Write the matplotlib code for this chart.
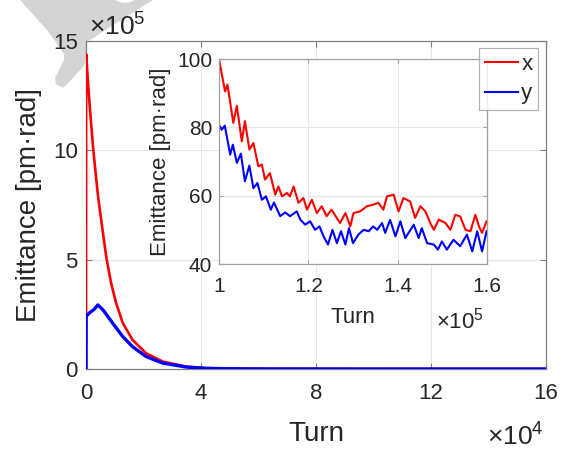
import matplotlib
matplotlib.use("Agg")
import matplotlib.pyplot as plt
from matplotlib.patches import Polygon, Circle
import numpy as np

plt.rcParams['font.family'] = ['Liberation Sans', 'DejaVu Sans']
plt.rcParams['mathtext.fontset'] = 'custom'
plt.rcParams['mathtext.rm'] = 'Liberation Sans'
plt.rcParams['mathtext.default'] = 'regular'

# ---------------- data ----------------
# main panel: turn (x10^4), emittance (x10^5 pm.rad)
main_turn_x = [0, 0.005, 0.05, 0.13, 0.255, 0.41, 0.52, 0.64, 0.72, 0.87, 1.04, 1.28, 1.62, 2.09, 2.67, 3.48, 4.17, 5.0, 6.0, 8.0, 10.0, 16.0]
main_emit_x = [0, 14.4, 13.5, 12.0, 10.0, 8.0, 6.9, 5.74, 5.0, 3.95, 3.05, 2.1, 1.33, 0.72, 0.34, 0.11, 0.04, 0.015, 0.006, 0.002, 0.001, 0.0005]
main_turn_y = [0, 0.005, 0.05, 0.17, 0.28, 0.41, 0.52, 0.64, 0.93, 1.28, 1.62, 2.09, 2.67, 3.48, 4.17, 5.0, 6.0, 10.0, 16.0]
main_emit_y = [0, 2.39, 2.48, 2.62, 2.72, 2.93, 2.80, 2.62, 2.09, 1.48, 1.02, 0.57, 0.27, 0.09, 0.03, 0.012, 0.005, 0.0008, 0.0005]

# inset: turn (x10^5), emittance (pm.rad)
ins_turn_x = [1.000, 1.0135, 1.019, 1.032, 1.040, 1.051, 1.058, 1.068, 1.077, 1.088, 1.096, 1.103,
              1.114, 1.126, 1.133, 1.141, 1.152, 1.159, 1.167, 1.178, 1.189, 1.197, 1.208, 1.219,
              1.230, 1.241, 1.252, 1.271, 1.283, 1.294, 1.301, 1.316, 1.331, 1.346, 1.357, 1.368,
              1.376, 1.391, 1.402, 1.413, 1.428, 1.439, 1.451, 1.462, 1.473, 1.481, 1.492, 1.507,
              1.518, 1.529, 1.540, 1.552, 1.563, 1.574, 1.582, 1.589, 1.599]
ins_emit_x = [100.0, 90.5, 92.5, 81.3, 86.3, 75.9, 81.8, 73.5, 75.4, 68.6, 69.1, 64.7,
              66.6, 60.3, 62.7, 59.8, 60.8, 59.8, 62.7, 57.9, 59.3, 55.9, 58.8, 54.9,
              56.9, 54.0, 55.9, 52.0, 54.9, 51.0, 54.9, 55.4, 56.9, 57.4, 57.9, 55.9,
              59.8, 60.3, 55.4, 59.3, 58.3, 53.5, 56.9, 55.4, 52.0, 50.0, 53.0, 52.0,
              50.0, 54.4, 53.9, 50.0, 49.6, 54.4, 51.0, 49.1, 52.5]
ins_turn_y = [1.000, 1.006, 1.013, 1.025, 1.031, 1.040, 1.049, 1.058, 1.068, 1.077, 1.086, 1.096,
              1.105, 1.116, 1.123, 1.137, 1.148, 1.159, 1.174, 1.182, 1.193, 1.204, 1.215, 1.225,
              1.234, 1.244, 1.254, 1.264, 1.273, 1.283, 1.291, 1.300, 1.312, 1.324, 1.335, 1.345,
              1.354, 1.365, 1.372, 1.383, 1.395, 1.406, 1.417, 1.436, 1.447, 1.454, 1.466, 1.481,
              1.490, 1.499, 1.510, 1.525, 1.540, 1.555, 1.567, 1.578, 1.589, 1.599]
ins_emit_y = [80.8, 79.3, 80.5, 72.0, 74.9, 69.6, 72.3, 64.2, 68.8, 62.2, 63.7, 58.8,
              59.8, 55.9, 58.0, 54.0, 55.1, 54.0, 55.4, 53.0, 51.5, 52.5, 50.0, 51.0,
              48.1, 45.7, 50.0, 46.1, 49.6, 45.7, 50.5, 46.1, 48.6, 50.0, 49.6, 51.0,
              50.0, 52.0, 49.1, 52.9, 48.1, 52.5, 47.6, 51.5, 47.6, 50.5, 46.1, 45.7,
              44.2, 46.6, 44.2, 47.1, 45.2, 48.6, 43.7, 49.6, 43.7, 49.6]

main_xticks = [0, 4, 8, 12, 16]
main_yticks = [0, 5, 10, 15]
ins_xticks = [1, 1.2, 1.4, 1.6]
ins_yticks = [40, 60, 80, 100]
labels = ['x', 'y']

# ---------------- figure ----------------
W, H = 574, 450
fig = plt.figure(figsize=(W / 100, H / 100), dpi=100)
TXT = '#262626'
SPINE = '#808080'
GRID = '#e6e6e6'

def px(x, y):
    return (x / W, 1 - y / H)

# grey artifact in the top-left corner
shape = [(20, 0), (153, 0), (118, 22), (90, 40), (86, 41), (86, 62), (83, 67), (72, 79), (63, 88),
         (56, 84), (55, 78), (59, 70), (64, 60), (64, 54), (58, 45), (47, 30)]
fig.patches.append(Polygon([px(*p) for p in shape], closed=True, transform=fig.transFigure,
                           facecolor='#d4d4d4', edgecolor='none', zorder=-2))
fig.patches.append(Circle(px(125, -9), 15 / W, transform=fig.transFigure,
                          facecolor='white', edgecolor='none', zorder=-1))
fig.patches.append(Polygon([px(86, 41), px(546, 41), px(546, 369), px(86, 369)], closed=True,
                           transform=fig.transFigure, facecolor='white', edgecolor='none', zorder=-0.5))

ax = fig.add_axes([86 / W, 1 - 369 / H, 460 / W, 328 / H])
ax.patch.set_alpha(0)
ax.plot(main_turn_x, main_emit_x, color='red', lw=1.9, zorder=3)
ax.plot(main_turn_y, main_emit_y, color='blue', lw=2.4, zorder=4)
ax.set_xlim(0, 16)
ax.set_ylim(0, 15)
ax.set_xticks(main_xticks)
ax.set_yticks(main_yticks)
ax.set_xticklabels([str(t) for t in main_xticks])
ax.set_yticklabels([str(t) for t in main_yticks])
ax.grid(True, color=GRID, lw=0.8, zorder=0)
ax.tick_params(direction='in', length=4, width=0.8, colors=SPINE, labelcolor=TXT,
               labelsize=16, top=True, right=True)
ax.tick_params(axis='x', pad=10)
ax.tick_params(axis='y', pad=6)
for s in ax.spines.values():
    s.set_color(SPINE)
    s.set_linewidth(0.9)
ax.set_xlabel('Turn', fontsize=20, color=TXT, labelpad=12)
ax.set_ylabel('Emittance [pm·rad]', fontsize=20, color=TXT, labelpad=8)
fig.text(*px(89, 36), '×10$^5$', fontsize=19, color=TXT, ha='left', va='baseline')
fig.text(*px(487, 446), '×10$^4$', fontsize=19, color=TXT, ha='left', va='baseline')

# inset
axi = fig.add_axes([219 / W, 1 - 264 / H, 268 / W, 205 / H])
axi.plot(ins_turn_x, ins_emit_x, color='red', lw=1.5, label=labels[0])
axi.plot(ins_turn_y, ins_emit_y, color='blue', lw=1.5, label=labels[1])
axi.set_xlim(1, 1.6)
axi.set_ylim(40, 100)
axi.set_xticks(ins_xticks)
axi.set_yticks(ins_yticks)
axi.set_xticklabels(['1', '1.2', '1.4', '1.6'])
axi.set_yticklabels([str(t) for t in ins_yticks])
axi.grid(True, color=GRID, lw=0.8)
axi.tick_params(direction='in', length=3, width=0.8, colors='#a0a0a0', labelcolor=TXT,
                labelsize=15, top=True, right=True, pad=5)
axi.tick_params(axis='x', pad=9)
for s in axi.spines.values():
    s.set_color('#a0a0a0')
    s.set_linewidth(0.9)
axi.set_xlabel('Turn', fontsize=16, color=TXT, labelpad=8)
axi.set_ylabel('Emittance [pm·rad]', fontsize=16, color=TXT, labelpad=4)
fig.text(*px(436, 328), '×10$^5$', fontsize=16, color=TXT, ha='left', va='baseline')

leg = axi.legend(loc='upper right', bbox_to_anchor=px(538, 48), bbox_transform=fig.transFigure,
                 borderaxespad=0, fontsize=16, handlelength=1.5, handletextpad=0.15,
                 labelspacing=0.4, borderpad=0.25, frameon=True, fancybox=False)
leg.get_frame().set_edgecolor('#a0a0a0')
leg.get_frame().set_linewidth(0.9)
for t in leg.get_texts():
    t.set_color(TXT)

fig.savefig('out.png', dpi=100)
